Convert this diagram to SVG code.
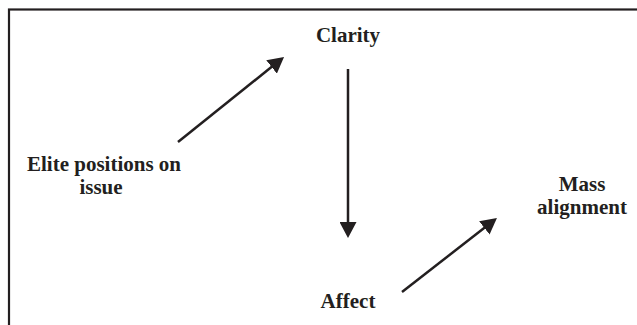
<svg xmlns="http://www.w3.org/2000/svg" width="637" height="325" viewBox="0 0 637 325">
  <style>
    .lbl { font-family: "Liberation Serif", "Times New Roman", serif; font-weight: bold; font-size: 21px; fill: #231f20; text-anchor: middle; }
    .edge { stroke: #231f20; stroke-width: 2.5; fill: none; marker-end: url(#arrow); }
  </style>
  <defs>
    <marker id="arrow" markerUnits="userSpaceOnUse" viewBox="0 0 16 17" markerWidth="16" markerHeight="17" refX="3" refY="8.5" orient="auto">
      <path d="M0,0 L16,8.5 L0,17 z" fill="#231f20"/>
    </marker>
  </defs>
  <rect x="9" y="9.5" width="640" height="330" fill="none" stroke="#231f20" stroke-width="2.2"/>
  <g id="connectors">
    <line class="edge" x1="178" y1="142" x2="273.9" y2="65.1"/>
    <line class="edge" x1="348" y1="69" x2="348" y2="225"/>
    <line class="edge" x1="402" y1="292" x2="486.7" y2="226"/>
  </g>
  <g id="clarity"><text class="lbl" x="348" y="42">Clarity</text></g>
  <g id="elite"><text class="lbl" x="104" y="171">Elite positions on</text><text class="lbl" x="101" y="194">issue</text></g>
  <g id="affect"><text class="lbl" x="348" y="308">Affect</text></g>
  <g id="mass"><text class="lbl" x="582" y="191">Mass</text><text class="lbl" x="582" y="214">alignment</text></g>
</svg>
